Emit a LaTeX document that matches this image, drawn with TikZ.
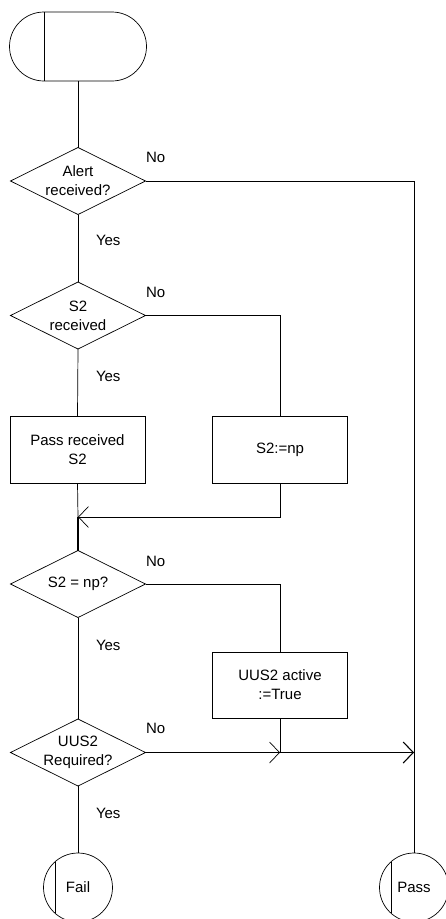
\documentclass[tikz,border=0pt]{standalone}
\usepackage{fontspec}
\setmainfont{Liberation Sans}
\usetikzlibrary{shapes.geometric,arrows.meta,calc}
\begin{document}
\begin{tikzpicture}[x=1pt,y=-1pt, line width=0.7pt,
  every node/.style={font=\fontsize{15}{19}\selectfont, outer sep=0pt},
  dec/.style={diamond, draw, minimum width=135pt, minimum height=67pt, inner sep=-4pt, aspect=2, align=center},
  task/.style={rectangle, draw, minimum width=135pt, minimum height=67pt, inner sep=0pt, align=center},
  term/.style={circle, draw, minimum size=69pt, inner sep=0pt},
  lbl/.style={anchor=west, inner sep=0pt},
  tip/.style={-{Straight Barb[length=10pt,width=21pt]}},
  heavy/.style={line width=1.1pt}
]
\useasboundingbox (0,0) rectangle (446,919);
% start terminal
\node[minimum width=68pt, minimum height=69pt, inner sep=0pt] (start) at (78,46.5) {};
\draw (start.north west) -- (start.north east)
  arc[start angle=90, end angle=-90, radius=34.5pt] -- (start.south west)
  arc[start angle=270, end angle=90, radius=34.5pt];
\draw (start.north west) -- (start.south west);
% decisions
\node[dec] (d1) at (78,181) {Alert\\received?};
\node[dec] (d2) at (78,315.5) {S2\\received};
\node[dec] (d3) at (78,584) {S2 = np?};
\node[dec] (d4) at (78,752.5) {UUS2\\Required?};
% tasks
\node[task] (b1) at (77.5,449.5) {Pass received\\S2};
\node[task] (b2) at (280,449.5) {S2:=np};
\node[task, minimum height=66pt] (b3) at (280,685) {UUS2 active\\:=True};
% ends
\node[term] (fail) at (78,887.5) {Fail};
\node[term] (pass) at (414,887.5) {Pass};
\draw ($(fail.center)+(-23,-25.3)$) -- ($(fail.center)+(-23,25.3)$);
\draw ($(pass.center)+(-23,-25.3)$) -- ($(pass.center)+(-23,25.3)$);
% coordinates
\coordinate (m1) at (78,517);
\coordinate (m2) at (280,752.5);
\coordinate (m3) at (414,752.5);
% connectors
\draw (start.south) -- (d1.north);
\draw (d1.east) -| (pass.north);
\draw (d1.south) -- (d2.north);
\draw (d2.east) -| (b2.north);
\draw (d2.south) -- (b1.north);
\draw (b2.south) |- (m1);
\draw[tip] (b2.south |- m1) -- (m1);
\draw (b1.south) -- (m1);
\draw[heavy] (m1) -- (d3.north);
\draw (d3.east) -| (b3.north);
\draw (d3.south) -- (d4.north);
\draw[tip] (d4.east) -- (m2);
\draw (b3.south) -- (m2);
\draw[tip, heavy] (m2) -- (m3);
\draw (d4.south) -- (fail.north);
% labels
\node[lbl] (no1) at (146,157) {No};
\node[lbl] (yes1) at (96,240) {Yes};
\node[lbl] (no2) at (146,292) {No};
\node[lbl] (yes2) at (96,376) {Yes};
\node[lbl] (no3) at (146,561) {No};
\node[lbl] (yes3) at (96,645) {Yes};
\node[lbl] (no4) at (146,728) {No};
\node[lbl] (yes4) at (96,813) {Yes};
\end{tikzpicture}
\end{document}
